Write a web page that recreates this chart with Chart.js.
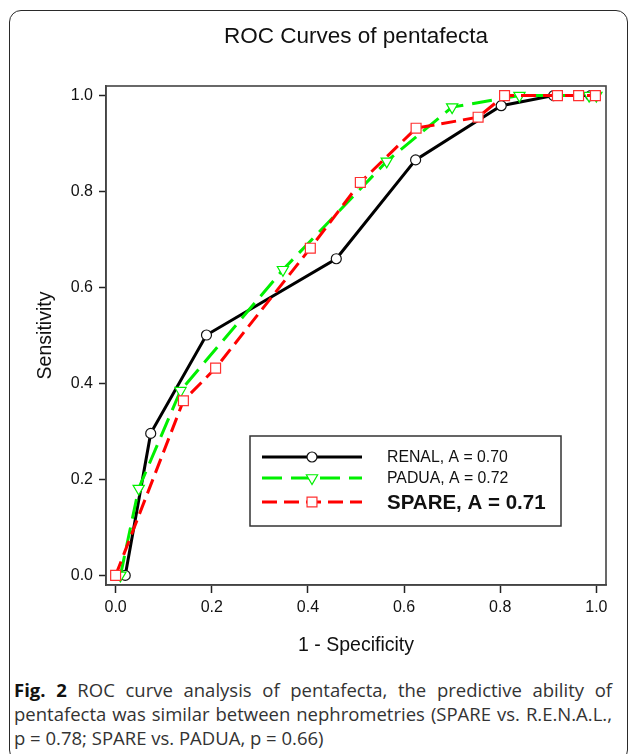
<!DOCTYPE html>
<html><head><meta charset="utf-8">
<script src="https://cdn.jsdelivr.net/npm/chart.js@4/dist/chart.umd.min.js"></script>
<style>
html,body{margin:0;padding:0;background:#fff;width:629px;height:754px;overflow:hidden;}
body{position:relative;}
#frame{position:absolute;left:9px;top:10px;width:619px;height:752px;border:1.5px solid #2a2a2a;border-radius:12px;box-sizing:border-box;}
#c{position:absolute;left:0;top:0;}
#caption{position:absolute;left:14px;top:678px;width:598px;font-family:"Open Sans";font-size:18.5px;line-height:24px;color:#333;}
#caption .j{text-align:justify;text-align-last:justify;white-space:nowrap;}
#caption .l{white-space:nowrap;}
#caption b{color:#111;}
</style></head>
<body>
<div id="frame"></div>
<canvas id="c" width="629" height="670"></canvas>
<div id="caption"><div class="j"><b>Fig. 2</b> ROC curve analysis of pentafecta, the predictive ability of</div><div class="j">pentafecta was similar between nephrometries (SPARE vs. R.E.N.A.L.,</div><div class="l">p = 0.78; SPARE vs. PADUA, p = 0.66)</div></div>
<script>
// ---- data ----
const chartTitle = 'ROC Curves of pentafecta';
const seriesNames = ['RENAL', 'PADUA', 'SPARE'];
const legendLabels = ['RENAL, A = 0.70', 'PADUA, A = 0.72', 'SPARE, A = 0.71'];
const renalX = [0.020, 0.073, 0.189, 0.459, 0.624, 0.802, 0.911, 0.988];
const renalY = [0.000, 0.296, 0.501, 0.660, 0.866, 0.979, 1.000, 1.000];
const paduaX = [0.010, 0.048, 0.135, 0.348, 0.564, 0.700, 0.840, 0.985, 1.000];
const paduaY = [0.000, 0.181, 0.385, 0.637, 0.863, 0.976, 1.000, 1.000, 1.000];
const spareX = [0.000, 0.141, 0.208, 0.405, 0.509, 0.625, 0.754, 0.809, 0.919, 0.963, 0.998];
const spareY = [0.000, 0.364, 0.432, 0.682, 0.819, 0.932, 0.955, 1.000, 1.000, 1.000, 1.000];
const xTickValues = [0, 0.2, 0.4, 0.6, 0.8, 1.0];
const xTickLabels = ['0.0', '0.2', '0.4', '0.6', '0.8', '1.0'];
const yTickValues = [0, 0.2, 0.4, 0.6, 0.8, 1.0];
const yTickLabels = ['0.0', '0.2', '0.4', '0.6', '0.8', '1.0'];

const pts = (xs, ys) => xs.map((x, i) => ({x: x, y: ys[i]}));

const GREEN = '#00f000';
const RED = '#ff0000';
const FONT = '"Liberation Sans", Arial, sans-serif';

const boxPlugin = {
  id: 'plotBox',
  beforeDatasetsDraw(chart) {
    const {ctx, chartArea: a} = chart;
    ctx.save();
    ctx.strokeStyle = '#444';
    ctx.lineWidth = 1.6;
    ctx.strokeRect(a.left, a.top, a.right - a.left, a.bottom - a.top);
    ctx.restore();
  },
  afterDraw(chart) {
    const {ctx, chartArea: a} = chart;
    ctx.save();
    ctx.fillStyle = '#111';
    ctx.font = '22.5px ' + FONT;
    ctx.textAlign = 'center';
    ctx.textBaseline = 'middle';
    ctx.fillText(chartTitle, (a.left + a.right) / 2, 37);
    ctx.restore();
  }
};

function marker(ctx, style, x, y, r, rot) {
  ctx.beginPath();
  if (style === 'circle') {
    ctx.arc(x, y, r, 0, Math.PI * 2);
  } else if (style === 'rect') {
    const s = Math.SQRT1_2 * r;
    ctx.rect(x - s, y - s, 2 * s, 2 * s);
  } else if (style === 'triangle') {
    const a = (rot || 0) * Math.PI / 180;
    for (let k = 0; k < 3; k++) {
      const ang = a + k * 2 * Math.PI / 3;
      const px = x + Math.sin(ang) * r, py = y - Math.cos(ang) * r;
      if (k === 0) ctx.moveTo(px, py); else ctx.lineTo(px, py);
    }
    ctx.closePath();
  }
  ctx.fill();
  ctx.stroke();
}

const legendPlugin = {
  id: 'boxLegend',
  afterDatasetsDraw(chart) {
    const {ctx, chartArea: a} = chart;
    const L = a.left + 144, T = a.top + 350, W = 311, H = 90;
    ctx.save();
    ctx.fillStyle = '#fff';
    ctx.fillRect(L, T, W, H);
    ctx.strokeStyle = '#333';
    ctx.lineWidth = 1.5;
    ctx.strokeRect(L, T, W, H);
    const rows = [21, 42, 66];
    chart.data.datasets.forEach((ds, i) => {
      const y = T + rows[i];
      ctx.save();
      ctx.strokeStyle = ds.borderColor;
      ctx.lineWidth = ds.borderWidth;
      ctx.setLineDash(ds.borderDash || []);
      ctx.beginPath();
      ctx.moveTo(L + 12, y);
      ctx.lineTo(L + 112, y);
      ctx.stroke();
      ctx.setLineDash([]);
      ctx.fillStyle = '#fff';
      ctx.strokeStyle = ds.pointBorderColor;
      ctx.lineWidth = ds.pointBorderWidth;
      marker(ctx, ds.pointStyle, L + 62, y, ds.pointRadius, ds.pointRotation);
      ctx.restore();
      ctx.fillStyle = '#111';
      ctx.textBaseline = 'middle';
      ctx.textAlign = 'left';
      ctx.font = (i === 2 ? 'bold 20.5px ' : '15.8px ') + FONT;
      ctx.fillText(legendLabels[i], L + 137, y + 1);
    });
    ctx.restore();
  }
};

new Chart(document.getElementById('c'), {
  type: 'scatter',
  data: {
    datasets: [
      {label: seriesNames[0], data: pts(renalX, renalY), showLine: true, tension: 0,
       borderColor: '#000', borderWidth: 3, pointStyle: 'circle', pointRadius: 5,
       pointBackgroundColor: '#fff', pointBorderColor: '#111', pointBorderWidth: 1.2, order: 3},
      {label: seriesNames[1], data: pts(paduaX, paduaY), showLine: true, tension: 0,
       borderColor: GREEN, borderWidth: 3, borderDash: [20, 9], pointStyle: 'triangle', pointRotation: 180,
       pointRadius: 6.5, pointBackgroundColor: '#fff', pointBorderColor: GREEN, pointBorderWidth: 1.2, order: 2},
      {label: seriesNames[2], data: pts(spareX, spareY), showLine: true, tension: 0,
       borderColor: RED, borderWidth: 3, borderDash: [15, 7], pointStyle: 'rect',
       pointRadius: 7, pointBackgroundColor: '#fff', pointBorderColor: '#ff3030', pointBorderWidth: 1.2, order: 1}
    ]
  },
  options: {
    responsive: false,
    devicePixelRatio: 1,
    animation: false,
    events: [],
    layout: {padding: {left: 0, right: 23, top: 86, bottom: 0}},
    plugins: {
      legend: {display: false},
      tooltip: {enabled: false},
      title: {display: false}
    },
    scales: {
      x: {
        type: 'linear', position: 'bottom', min: -0.02, max: 1.02,
        afterBuildTicks: s => { s.ticks = xTickValues.map(v => ({value: v})); },
        afterFit: s => { s.height = 85; },
        grid: {drawOnChartArea: false, drawTicks: true, tickLength: 8, tickColor: '#222', tickWidth: 1.5},
        border: {display: true, color: '#444', width: 1.6},
        ticks: {padding: 5, color: '#111', autoSkip: false, maxRotation: 0,
          font: {family: FONT, size: 16},
          callback: (v, i) => xTickLabels[i]},
        title: {display: true, text: '1 - Specificity', color: '#111',
          font: {family: FONT, size: 19.5},
          padding: {top: 0, bottom: 13}}
      },
      y: {
        type: 'linear', position: 'left', min: -0.02, max: 1.02,
        afterBuildTicks: s => { s.ticks = yTickValues.map(v => ({value: v})); },
        afterFit: s => { s.width = 106; },
        grid: {drawOnChartArea: false, drawTicks: true, tickLength: 7, tickColor: '#222', tickWidth: 1.5},
        border: {display: true, color: '#444', width: 1.6},
        ticks: {padding: 6, color: '#111', autoSkip: false,
          font: {family: FONT, size: 16},
          callback: (v, i) => yTickLabels[i]},
        title: {display: true, text: 'Sensitivity', color: '#111',
          font: {family: FONT, size: 19.5},
          padding: {top: 34, bottom: 0}}
      }
    }
  },
  plugins: [boxPlugin, legendPlugin]
});
</script>
</body></html>
